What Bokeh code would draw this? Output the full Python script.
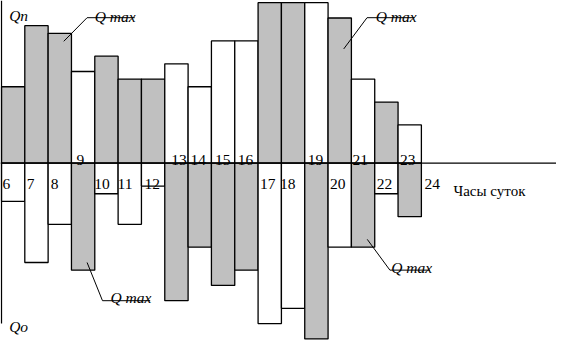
from bokeh.plotting import figure
from bokeh.models import Range1d, Span, Label, ColumnDataSource
from bokeh.embed import file_html
from bokeh.resources import INLINE
from bokeh.core.properties import value

# ---- data (units) ----
hours = [6, 7, 8, 9, 10, 11, 12, 13, 14, 15, 16, 17, 18, 19, 20, 21, 22, 23]
supply = [10, 18, 17, 12, 14, 11, 11, 13, 10, 16, 16, 21, 21, 21, 19, 11, 8, 5]
supply_shaded = [1, 1, 1, 0, 1, 1, 1, 0, 0, 0, 0, 1, 1, 0, 1, 0, 1, 0]
consumption = [5, 13, 8, 14, 4, 8, 3, 18, 11, 16, 14, 21, 19, 23, 11, 11, 4, 7]
consumption_shaded = [0, 0, 0, 1, 0, 0, 0, 1, 1, 1, 1, 0, 0, 1, 0, 1, 0, 1]
tick_hours = [6, 7, 8, 9, 10, 11, 12, 13, 14, 15, 16, 17, 18, 19, 20, 21, 22, 23, 24]
tick_labels = [str(h) for h in tick_hours]

# ---- style ----
GRAY = "#c0c0c0"
SERIF = "Liberation Serif"
label_dx = [1, 2, 2.5, 5, -0.5, -0.5, 3, 6.5, 2.5, 3.5, 3, 2, -1.5, 3, 2, 1, 2, 2, 3]

p = figure(width=556, height=341,
           x_range=Range1d(5.9583, 29.7917), y_range=Range1d(-23.34, 21.29),
           x_axis_location=None, y_axis_location=None,
           toolbar_location=None, output_backend="svg",
           min_border=0, outline_line_color=None)
p.xgrid.visible = False
p.ygrid.visible = False

lefts = hours
rights = [h + 1 for h in hours]
up_src = ColumnDataSource(dict(left=lefts, right=rights, top=supply,
                               bottom=[0] * len(hours),
                               color=[GRAY if s else "white" for s in supply_shaded]))
dn_src = ColumnDataSource(dict(left=lefts, right=rights, top=[0] * len(hours),
                               bottom=[-c for c in consumption],
                               color=[GRAY if s else "white" for s in consumption_shaded]))
p.quad(left="left", right="right", top="top", bottom="bottom", source=up_src,
       fill_color="color", line_color="black", line_width=1.3)
p.quad(left="left", right="right", top="top", bottom="bottom", source=dn_src,
       fill_color="color", line_color="black", line_width=1.3)

# horizontal axis line
p.add_layout(Span(location=0, dimension="width", line_color="black", line_width=1.3))
# vertical axis line
p.segment(x0=[6], y0=[-21], x1=[6], y1=[21.29], line_color="black", line_width=1.3)

# hour labels: above the axis where the upper bar is white, else below
above = []
for h in tick_hours:
    if h in hours and supply_shaded[hours.index(h)] == 0:
        above.append(True)
    else:
        above.append(False)
lab_src = ColumnDataSource(dict(x=tick_hours, y=[0] * len(tick_hours), text=tick_labels,
                                dx=label_dx,
                                dy=[-3.2 if a else 20.7 for a in above]))
p.text(x="x", y="y", text="text", x_offset="dx", y_offset="dy", source=lab_src,
       text_font=value(SERIF), text_font_size="15.5px", text_color="black",
       text_baseline="alphabetic", text_align="left")

# axis titles
def lab(x, y, t, italic=True, size="15.5px"):
    p.add_layout(Label(x=x, y=y, text=t, text_font=SERIF, text_font_size=size,
                       text_font_style="italic" if italic else "normal",
                       text_baseline="alphabetic", text_align="left", text_color="black"))

lab(6.33, 19.3, "Qп")
lab(6.33, -21.34, "Qo")
lab(25.375, -3.63, "Часы суток", italic=False, size="15px")

# Q max callouts: (text x, text y, underline x0, x1, y, leader end x, y)
callouts = [
    (10.0, 19.2, 9.67, 11.71, 19.04, 8.67, 15.95),
    (22.04, 19.2, 21.67, 23.71, 19.04, 20.67, 14.95),
    (10.67, -17.6, 10.33, 12.375, -18.0, 9.67, -13.0),
    (22.71, -13.7, 22.65, 24.36, -14.0, 21.68, -9.97),
]
for tx, ty, ux0, ux1, uy, ex, ey in callouts:
    lab(tx, ty, "Q max")
    p.segment(x0=[ux0], y0=[uy], x1=[ux1], y1=[uy], line_color="black", line_width=1)
    p.segment(x0=[ux0], y0=[uy], x1=[ex], y1=[ey], line_color="black", line_width=1)

open("out.html", "w").write(file_html(p, INLINE))
